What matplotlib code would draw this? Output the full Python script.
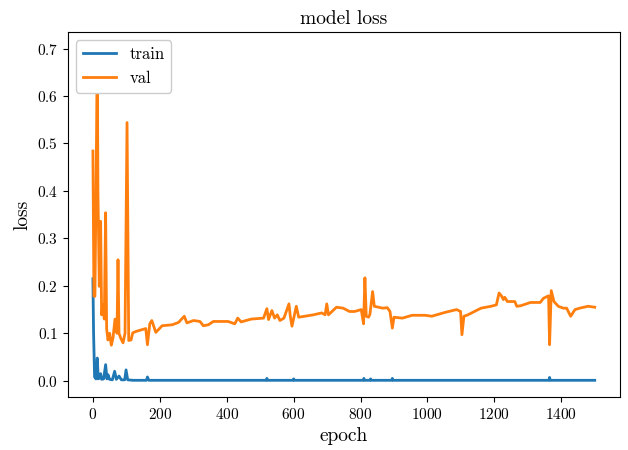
import matplotlib
matplotlib.use("Agg")
import matplotlib.pyplot as plt

plt.rcParams["font.family"] = "serif"
plt.rcParams["font.serif"] = ["cmr10", "DejaVu Serif"]
plt.rcParams["mathtext.fontset"] = "cm"
plt.rcParams["axes.formatter.use_mathtext"] = True

# Training loss per epoch (sampled at the epochs where it changes)
train_epochs = [0, 2, 5, 9, 13, 16, 20, 23, 26, 32, 38, 42, 45, 50, 58, 65, 70, 78, 85,
                95, 99, 104, 120, 160, 163, 167, 300, 518, 520, 522, 598, 600, 602,
                808, 810, 812, 828, 830, 832, 893, 895, 897, 1363, 1365, 1367, 1500]
train_loss = [0.215, 0.10, 0.008, 0.004, 0.048, 0.004, 0.006, 0.015, 0.003, 0.004, 0.034,
              0.004, 0.013, 0.003, 0.002, 0.020, 0.003, 0.010, 0.002,
              0.002, 0.023, 0.002, 0.001, 0.001, 0.008, 0.001, 0.001, 0.001, 0.005,
              0.001, 0.001, 0.004, 0.001, 0.001, 0.005, 0.001, 0.001, 0.004, 0.001,
              0.001, 0.005, 0.001, 0.001, 0.007, 0.001, 0.001]

# Validation loss per epoch (sampled at the epochs where it changes)
val_epochs = [0, 3, 6, 10, 13, 15, 19, 23, 26, 30, 34, 38, 41, 45, 50, 55, 60, 66,
              72, 75, 78, 83, 90, 96, 102, 107, 114, 119, 129, 148, 158, 163, 170,
              176, 188, 207, 237, 256, 273, 281, 301, 320, 330, 345, 360, 404, 424,
              433, 443, 473, 510, 520, 525, 535, 543, 551, 559, 571, 586, 590, 595,
              608, 615, 625, 659, 684, 694, 699, 704, 728, 748, 767, 782, 802, 809,
              813, 817, 824, 828, 836, 841, 866, 880, 888, 895, 900, 925, 954, 993,
              1013, 1052, 1087, 1099, 1103, 1109, 1121, 1160, 1190, 1206, 1214, 1221,
              1227, 1231, 1239, 1261, 1267, 1278, 1308, 1337, 1347, 1362, 1365, 1370,
              1378, 1391, 1406, 1416, 1428, 1441, 1455, 1480, 1500]
val_loss = [0.484, 0.178, 0.178, 0.45, 0.70, 0.40, 0.199, 0.336, 0.139, 0.16, 0.13,
            0.354, 0.11, 0.086, 0.10, 0.075, 0.09, 0.13, 0.10, 0.255, 0.10, 0.09,
            0.08, 0.10, 0.544, 0.085, 0.086, 0.101, 0.104, 0.108, 0.11, 0.076, 0.12,
            0.127, 0.102, 0.116, 0.118, 0.123, 0.136, 0.122, 0.127, 0.125, 0.116,
            0.118, 0.125, 0.125, 0.12, 0.132, 0.124, 0.13, 0.132, 0.152, 0.129,
            0.148, 0.132, 0.139, 0.127, 0.132, 0.162, 0.136, 0.115, 0.157, 0.134,
            0.135, 0.139, 0.143, 0.139, 0.162, 0.139, 0.155, 0.153, 0.146, 0.146,
            0.150, 0.12, 0.217, 0.136, 0.134, 0.14, 0.188, 0.157, 0.153, 0.154,
            0.146, 0.111, 0.134, 0.132, 0.138, 0.138, 0.136, 0.144, 0.15, 0.146,
            0.097, 0.136, 0.139, 0.153, 0.157, 0.16, 0.185, 0.179, 0.171, 0.176,
            0.167, 0.167, 0.157, 0.158, 0.165, 0.165, 0.174, 0.179, 0.076, 0.19,
            0.167, 0.157, 0.153, 0.153, 0.136, 0.15, 0.153, 0.157, 0.155]

fig, ax = plt.subplots(figsize=(6.28, 4.5), dpi=100)
ax.plot(train_epochs, train_loss, label="train", lw=2)
ax.plot(val_epochs, val_loss, label="val", lw=2)
ax.set_title("model loss", fontsize=14)
ax.set_xlabel("epoch", fontsize=14)
ax.set_ylabel("loss", fontsize=14)
ax.tick_params(labelsize=11)
ax.legend(loc="upper left", fontsize=12, framealpha=1)
fig.subplots_adjust(left=0.108, right=0.987, top=0.929, bottom=0.118)
fig.savefig("out.png")
